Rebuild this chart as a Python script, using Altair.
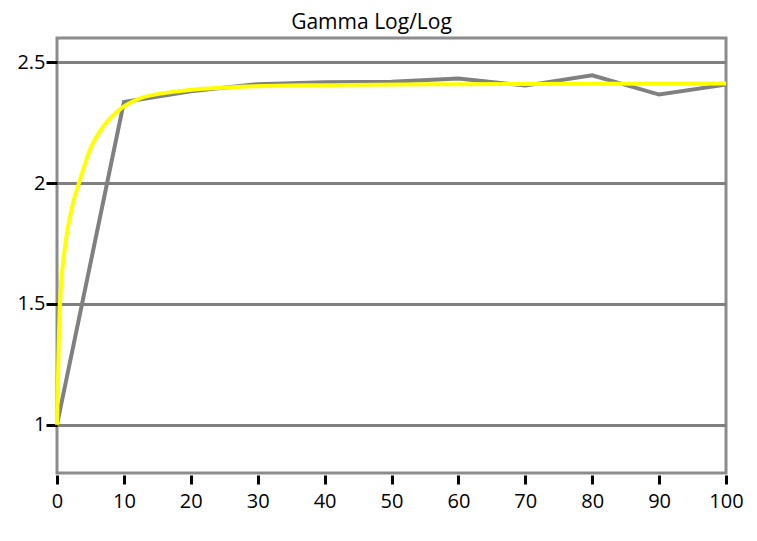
import altair as alt
import pandas as pd

# Measured (gray) series
meas_x = [0, 10, 20, 30, 40, 50, 60, 70, 80, 90, 100]
meas_y = [1.0, 2.335, 2.38, 2.409, 2.417, 2.419, 2.432, 2.403, 2.446, 2.366, 2.407]

# Fitted (yellow) curve
fit_x = [0, 0.45, 1.2, 2.4, 3.4, 4.9, 6.9, 9.9, 12.4, 17.3, 27.4, 40, 60, 80, 100]
fit_y = [1.0, 1.50, 1.735, 1.917, 2.01, 2.136, 2.233, 2.315, 2.35, 2.377, 2.398, 2.405, 2.409, 2.411, 2.412]

y_ticks = [1, 1.5, 2, 2.5]
x_ticks = [0, 10, 20, 30, 40, 50, 60, 70, 80, 90, 100]

meas = pd.DataFrame({"x": meas_x, "y": meas_y})
fit = pd.DataFrame({"x": fit_x, "y": fit_y})

FONT = "Open Sans"

xenc = alt.X("x:Q", scale=alt.Scale(domain=[0, 100], nice=False),
             axis=alt.Axis(values=x_ticks, title=None, grid=False, domain=False,
                           ticks=True, tickColor="black", tickWidth=3, tickSize=9,
                           labelFont=FONT, labelFontSize=20, labelColor="black",
                           labelPadding=7, offset=2, labelFlush=False, format="d"))
yenc = alt.Y("y:Q", scale=alt.Scale(domain=[0.8, 2.6], nice=False, zero=False),
             axis=alt.Axis(values=y_ticks, title=None, grid=True, gridColor="#808080",
                           gridWidth=3, domain=False, ticks=True, tickColor="black",
                           tickWidth=3, tickSize=11, labelFont=FONT, labelFontSize=20,
                           labelColor="black", labelPadding=1, offset=0,
                           labelFlush=False, format="~g"))

gray = alt.Chart(meas).mark_line(color="#808080", strokeWidth=4).encode(x=xenc, y=yenc)
yellow = alt.Chart(fit).mark_line(color="#ffff00", strokeWidth=4, interpolate="monotone").encode(
    x="x:Q", y="y:Q")

chart = alt.layer(gray, yellow).properties(
    width=669, height=435,
    autosize=alt.AutoSizeParams(type="none"),
    padding={"left": 49, "top": 30, "right": 23, "bottom": 50},
    title=alt.Title("Gamma Log/Log", font=FONT, fontSize=21, fontWeight="normal",
                    color="black", anchor="middle", dx=-20, offset=5),
).configure(background="white").configure_view(stroke="#8c8c8c", strokeWidth=3)

chart.save("out.html", embed_options={"renderer": "svg", "actions": False})
